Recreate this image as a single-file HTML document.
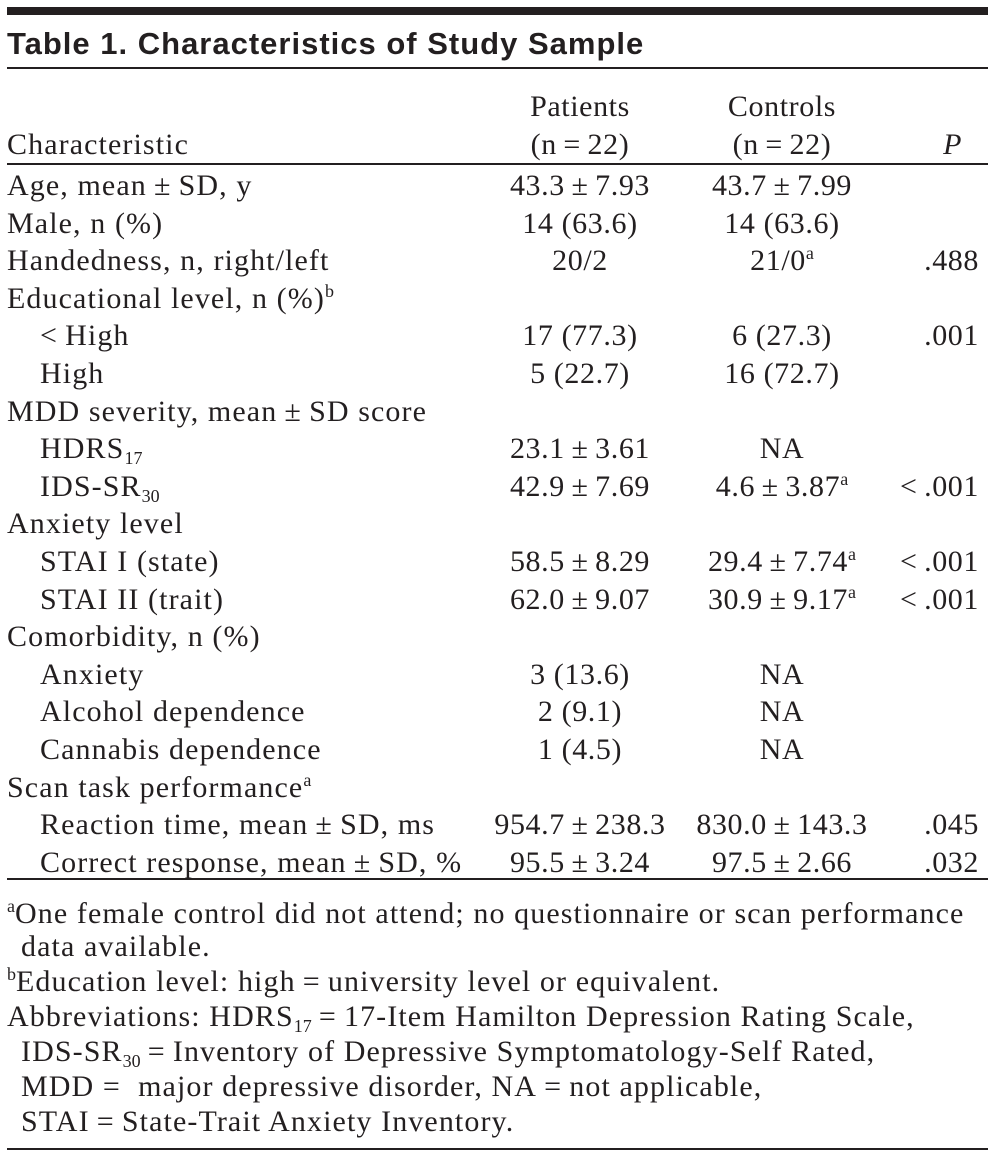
<!DOCTYPE html>
<html><head><meta charset="utf-8"><style>
body{margin:0;background:#fff;}
#t{position:relative;width:995px;height:1153px;overflow:hidden;font-family:"Liberation Serif",serif;font-size:30px;letter-spacing:1.1px;color:#231f20;}
.r{position:absolute;left:0;right:0;height:30px;line-height:30px;white-space:nowrap;}
.r span{position:absolute;top:0;}
.c1{left:7px}.ci{left:40px}
.p{width:300px;left:430px;text-align:center;letter-spacing:0.6px}
.k{width:300px;left:632px;text-align:center;letter-spacing:0.6px}
.v{right:16px;text-align:right;letter-spacing:0.6px}
sup{font-size:60%;vertical-align:0;position:relative;top:-11px;letter-spacing:0}
sub{font-size:60%;vertical-align:0;position:relative;top:6px;letter-spacing:0}
.line{position:absolute;left:7px;right:7px;background:#231f20;}
</style></head><body>
<div id="t">
<div class="line" style="top:7px;height:8px"></div>
<div class="r" style="top:29px;font-family:'Liberation Sans',sans-serif;font-weight:bold;font-size:31px;letter-spacing:1px;"><span class="c1">Table 1. Characteristics of Study Sample</span></div>
<div class="line" style="top:67px;height:2px"></div>
<div class="r" style="top:92px"><span class="p">Patients</span><span class="k">Controls</span></div>
<div class="r" style="top:130px"><span class="c1">Characteristic</span><span class="p">(n&thinsp;=&thinsp;22)</span><span class="k">(n&thinsp;=&thinsp;22)</span><span class="v" style="right:33px;font-style:italic">P</span></div>
<div class="line" style="top:163px;height:2px"></div>
<div id="rows"></div>
<div class="line" style="top:878px;height:2px"></div>
<div class="r" style="top:899px"><span class="c1"><sup>a</sup>One female control did not attend; no questionnaire or scan performance</span></div>
<div class="r" style="top:932px"><span style="left:21px">data available.</span></div>
<div class="r" style="top:967px"><span class="c1"><sup>b</sup>Education level: high&thinsp;=&thinsp;university level or equivalent.</span></div>
<div class="r" style="top:1002px"><span class="c1">Abbreviations: HDRS<sub>17</sub>&thinsp;=&thinsp;17-Item Hamilton Depression Rating Scale,</span></div>
<div class="r" style="top:1037px"><span style="left:21px">IDS-SR<sub>30</sub>&thinsp;=&thinsp;Inventory of Depressive Symptomatology-Self Rated,</span></div>
<div class="r" style="top:1072px"><span style="left:21px">MDD =&nbsp; major depressive disorder, NA&thinsp;=&thinsp;not applicable,</span></div>
<div class="r" style="top:1107px"><span style="left:21px">STAI&thinsp;=&thinsp;State-Trait Anxiety Inventory.</span></div>
<div class="line" style="top:1148px;height:2px"></div>
</div>
<script>
const labels=["Age, mean ± SD, y","Male, n (%)","Handedness, n, right/left","Educational level, n (%)<sup>b</sup>","&lt; High","High","MDD severity, mean ± SD score","HDRS<sub>17</sub>","IDS-SR<sub>30</sub>","Anxiety level","STAI I (state)","STAI II (trait)","Comorbidity, n (%)","Anxiety","Alcohol dependence","Cannabis dependence","Scan task performance<sup>a</sup>","Reaction time, mean ± SD, ms","Correct response, mean ± SD, %"];
const indent=[0,0,0,0,1,1,0,1,1,0,1,1,0,1,1,1,0,1,1];
const patients=["43.3 ± 7.93","14 (63.6)","20/2","","17 (77.3)","5 (22.7)","","23.1 ± 3.61","42.9 ± 7.69","","58.5 ± 8.29","62.0 ± 9.07","","3 (13.6)","2 (9.1)","1 (4.5)","","954.7 ± 238.3","95.5 ± 3.24"];
const controls=["43.7 ± 7.99","14 (63.6)","21/0<sup>a</sup>","","6 (27.3)","16 (72.7)","","NA","4.6 ± 3.87<sup>a</sup>","","29.4 ± 7.74<sup>a</sup>","30.9 ± 9.17<sup>a</sup>","","NA","NA","NA","","830.0 ± 143.3","97.5 ± 2.66"];
const pvals=["","",".488","",".001","","","","&lt; .001","","&lt; .001","&lt; .001","","","","","",".045",".032"];
const host=document.getElementById('rows');
const th=s=>s.replace(/ ± /g,'&thinsp;±&thinsp;').replace('&lt; ','&lt;&thinsp;');
labels.forEach((l,i)=>{
 const d=document.createElement('div');
 d.className='r';
 d.style.top=(171+i*37.6)+'px';
 
 
 d.innerHTML='<span class="'+(indent[i]?'ci':'c1')+'">'+th(l)+'</span>'+
  (patients[i]?'<span class="p">'+th(patients[i])+'</span>':'')+
  (controls[i]?'<span class="k">'+th(controls[i])+'</span>':'')+
  (pvals[i]?'<span class="v">'+th(pvals[i])+'</span>':'');
 host.appendChild(d);
});
</script>
</body></html>
